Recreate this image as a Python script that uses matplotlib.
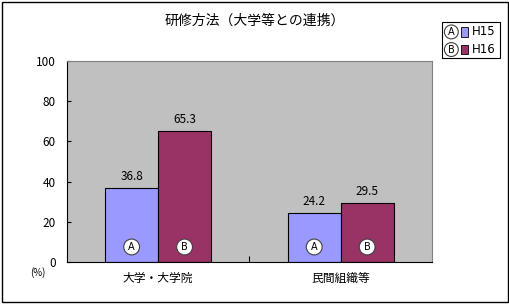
import numpy as np
import matplotlib.pyplot as plt
from matplotlib.patches import Rectangle

plt.rcParams['font.family'] = ['Noto Sans CJK JP', 'DejaVu Sans']

# データ
categories = ['大学・大学院', '民間組織等']
series_names = ['H15', 'H16']
series_marks = ['A', 'B']
h15 = [36.8, 24.2]
h16 = [65.3, 29.5]
colors = ['#9999FF', '#993366']

fig = plt.figure(figsize=(5.1, 3.04), dpi=100)
fig.patches.append(Rectangle((0.004, 0.007), 0.992, 0.986, transform=fig.transFigure,
                             fill=False, ec='black', lw=1.0))

ax = fig.add_axes([0.131, 0.138, 0.716, 0.661])
ax.set_facecolor('#C0C0C0')

x = np.arange(len(categories))
w = 0.29
vals = [h15, h16]
for i, (v, c) in enumerate(zip(vals, colors)):
    pos = x + (i - 0.5) * w
    ax.bar(pos, v, width=w, color=c, edgecolor='black', linewidth=0.8)
    for p, val in zip(pos, v):
        ax.text(p, val + 2.5, f'{val:.1f}', ha='center', va='bottom', fontsize=8.5)
        ax.text(p, 7.5, series_marks[i], ha='center', va='center', fontsize=7,
                family='DejaVu Sans',
                bbox=dict(boxstyle='circle,pad=0.3', fc='white', ec='#404040', lw=0.8))

ax.set_xlim(-0.5, 1.5)
ax.set_ylim(0, 100)
ax.set_yticks(range(0, 101, 20))
ax.tick_params(axis='y', direction='in', length=3, labelsize=8.5, pad=8)
ax.set_xticks([0.5])
ax.set_xticklabels([''])
ax.tick_params(axis='x', direction='in', length=4)
for p, lab in zip(x, categories):
    ax.text(p, -5, lab, ha='center', va='top', fontsize=8.5,
            transform=ax.transData)

ax.spines['left'].set_color('black')
ax.spines['bottom'].set_color('black')
ax.spines['top'].set_color('#808080')
ax.spines['right'].set_color('#808080')

fig.text(0.06, 0.105, '(%)', fontsize=7, ha='left', va='center')
fig.text(0.5, 0.932, '研修方法（大学等との連携）', fontsize=10, ha='center', va='center')

# 凡例
fig.patches.append(Rectangle((0.867, 0.81), 0.114, 0.118, transform=fig.transFigure,
                             fill=False, ec='black', lw=0.8))
for i, (nm, mk, c) in enumerate(zip(series_names, series_marks, colors)):
    y = 0.895 - i * 0.058
    fig.text(0.885, y, mk, fontsize=7, ha='center', va='center', family='DejaVu Sans',
             bbox=dict(boxstyle='circle,pad=0.2', fc='white', ec='#404040', lw=0.8))
    fig.patches.append(Rectangle((0.903, y - 0.016), 0.014, 0.032, transform=fig.transFigure,
                                 fc=c, ec='black', lw=0.6))
    fig.text(0.925, y, nm, fontsize=8.5, ha='left', va='center', family='DejaVu Sans')

fig.savefig('out.png', dpi=100)
